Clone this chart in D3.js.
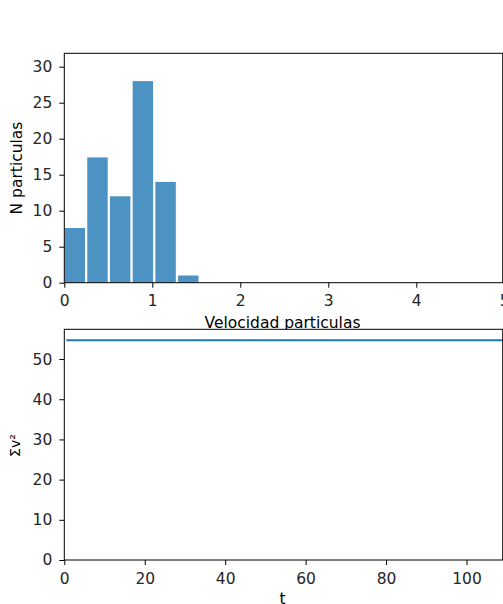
<!DOCTYPE html>
<html>
<head>
<meta charset="utf-8">
<script src="https://cdn.jsdelivr.net/npm/d3@7"></script>
<style>
  body { margin: 0; background: #fff; overflow: hidden; }
  text { font-family: "DejaVu Sans", sans-serif; }
</style>
</head>
<body>
<div id="viz"></div>
<script>
// histogram: bin edges and counts
const binEdges = [-0.01, 0.248, 0.506, 0.764, 1.022, 1.28, 1.538];
const binCounts = [7.6, 17.4, 12, 28, 14, 1];
const velTicks = [0, 1, 2, 3, 4, 5];
const countTicks = [0, 5, 10, 15, 20, 25, 30];

// sum of v^2 over time
const tValues = [0.5, 112];
const sumV2 = [54.7, 54.7];
const tTicks = [0, 20, 40, 60, 80, 100];
const sumTicks = [0, 10, 20, 30, 40, 50];

const W = 503, H = 604;
const fs = 15.5;

const svg = d3.select('#viz').append('svg')
    .attr('width', W)
    .attr('height', H);

// ---------- top panel ----------
const top1 = {left: 64.3, right: 502.7, top: 53.3, bottom: 282.7};

const x1 = d3.scaleLinear().domain([0, 5]).range([top1.left, top1.left + 88 * 5]);
const y1 = d3.scaleLinear().domain([0, 31.86]).range([top1.bottom, top1.top]);

svg.append('clipPath').attr('id', 'clip1')
    .append('rect')
    .attr('x', top1.left).attr('y', top1.top)
    .attr('width', top1.right - top1.left).attr('height', top1.bottom - top1.top);

const bins = binCounts.map((c, i) => ({x0: binEdges[i], x1: binEdges[i + 1], n: c}));

svg.append('g').attr('clip-path', 'url(#clip1)')
    .selectAll('rect').data(bins).enter().append('rect')
    .attr('x', d => x1(d.x0 + (d.x1 - d.x0) * 0.05))
    .attr('width', d => x1(d.x1) - x1(d.x0) - (x1(d.x1) - x1(d.x0)) * 0.1)
    .attr('y', d => y1(d.n))
    .attr('height', d => y1(0) - y1(d.n))
    .attr('fill', '#1f77b4')
    .attr('fill-opacity', 0.8);

// spines
svg.append('rect')
    .attr('x', top1.left).attr('y', top1.top)
    .attr('width', top1.right - top1.left).attr('height', top1.bottom - top1.top)
    .attr('fill', 'none').attr('stroke', '#000').attr('stroke-width', 1);

const xAxis1 = svg.append('g')
    .attr('transform', 'translate(0,' + top1.bottom + ')')
    .call(d3.axisBottom(x1).tickValues(velTicks).tickFormat(d3.format('d')).tickSize(5).tickPadding(7.3));
const yAxis1 = svg.append('g')
    .attr('transform', 'translate(' + top1.left + ',0)')
    .call(d3.axisLeft(y1).tickValues(countTicks).tickSize(5).tickPadding(7));

svg.append('text')
    .attr('x', (top1.left + top1.right) / 2 - 1)
    .attr('y', 328)
    .attr('text-anchor', 'middle')
    .attr('font-size', fs)
    .attr('fill', '#000')
    .text('Velocidad particulas');

svg.append('text')
    .attr('transform', 'translate(21.5,' + (top1.top + top1.bottom) / 2 + ') rotate(-90)')
    .attr('text-anchor', 'middle')
    .attr('font-size', fs)
    .attr('fill', '#000')
    .text('N particulas');

// ---------- bottom panel ----------
const bot = {left: 64.3, right: 502.7, top: 329.3, bottom: 560};

const x2 = d3.scaleLinear().domain([0, 109]).range([bot.left, bot.right]);
const y2 = d3.scaleLinear().domain([0, 57.4]).range([bot.bottom, bot.top]);

// white background hides the lower part of the xlabel above
svg.append('rect')
    .attr('x', bot.left).attr('y', bot.top)
    .attr('width', bot.right - bot.left).attr('height', bot.bottom - bot.top)
    .attr('fill', '#fff');

svg.append('clipPath').attr('id', 'clip2')
    .append('rect')
    .attr('x', bot.left).attr('y', bot.top)
    .attr('width', bot.right - bot.left).attr('height', bot.bottom - bot.top);

const lineData = tValues.map((t, i) => [t, sumV2[i]]);
svg.append('path')
    .datum(lineData)
    .attr('clip-path', 'url(#clip2)')
    .attr('d', d3.line().x(d => x2(d[0])).y(d => y2(d[1])))
    .attr('fill', 'none')
    .attr('stroke', '#1f77b4')
    .attr('stroke-width', 2);

svg.append('rect')
    .attr('x', bot.left).attr('y', bot.top)
    .attr('width', bot.right - bot.left).attr('height', bot.bottom - bot.top)
    .attr('fill', 'none').attr('stroke', '#000').attr('stroke-width', 1);

const xAxis2 = svg.append('g')
    .attr('transform', 'translate(0,' + bot.bottom + ')')
    .call(d3.axisBottom(x2).tickValues(tTicks).tickSize(5).tickPadding(8.3));
const yAxis2 = svg.append('g')
    .attr('transform', 'translate(' + bot.left + ',0)')
    .call(d3.axisLeft(y2).tickValues(sumTicks).tickSize(5).tickPadding(7));

svg.append('text')
    .attr('x', (bot.left + bot.right) / 2 - 1)
    .attr('y', 603.5)
    .attr('text-anchor', 'middle')
    .attr('font-size', fs)
    .attr('fill', '#000')
    .text('t');

svg.append('text')
    .attr('transform', 'translate(19.5,' + 445.5 + ') rotate(-90)')
    .attr('text-anchor', 'middle')
    .attr('font-size', 14)
    .attr('fill', '#000')
    .text('Σv²');

// matplotlib-like axis styling
[xAxis1, yAxis1, xAxis2, yAxis2].forEach(a => {
    a.select('.domain').remove();
    a.selectAll('text')
        .attr('font-family', '"DejaVu Sans", sans-serif')
        .attr('font-size', fs)
        .attr('fill', '#262626');
    a.selectAll('line').attr('stroke', '#000');
});
</script>
</body>
</html>
